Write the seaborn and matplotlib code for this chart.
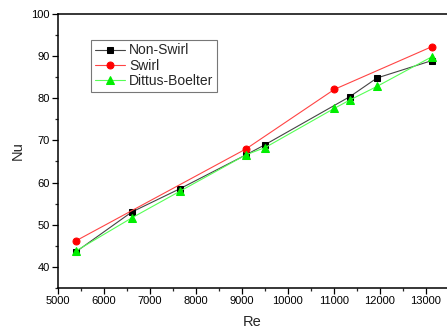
import matplotlib
matplotlib.use("Agg")
import matplotlib.pyplot as plt
import seaborn as sns
import pandas as pd
from matplotlib.ticker import MultipleLocator

sns.set_style("ticks")
plt.rcParams['font.family'] = ['Liberation Sans', 'DejaVu Sans']

re_nonswirl = [5391, 6600, 7643, 9091, 9504, 11350, 11937, 13124]
nu_nonswirl = [43.6, 53.0, 58.5, 66.6, 69.0, 80.4, 84.8, 88.9]

re_swirl = [5391, 9091, 11010, 13124]
nu_swirl = [46.2, 68.0, 82.1, 92.2]

re_db = [5391, 6600, 7643, 9091, 9504, 11010, 11350, 11937, 13124]
nu_db = [43.8, 51.6, 57.9, 66.6, 68.3, 77.6, 79.6, 82.8, 89.8]

fig = plt.figure(figsize=(4.47, 3.31), dpi=100)
ax = fig.add_axes([0.13, 0.13, 0.87, 0.828])

sns.lineplot(x=re_nonswirl, y=nu_nonswirl, ax=ax, color='#444444', lw=0.8,
             marker='s', markersize=4.0, markerfacecolor='black', markeredgecolor='black',
             label='Non-Swirl')
sns.lineplot(x=re_swirl, y=nu_swirl, ax=ax, color='#ff4444', lw=0.8,
             marker='o', markersize=5.0, markerfacecolor='#ff0000', markeredgecolor='#ff0000',
             label='Swirl')
sns.lineplot(x=re_db, y=nu_db, ax=ax, color='#55ff55', lw=0.8,
             marker='^', markersize=5.2, markerfacecolor='#00ee00', markeredgecolor='#00ee00',
             label='Dittus-Boelter')

ax.set_xlim(5000, 13460)
ax.set_ylim(35, 100)
ax.xaxis.set_major_locator(MultipleLocator(1000))
ax.xaxis.set_minor_locator(MultipleLocator(500))
ax.yaxis.set_major_locator(MultipleLocator(10))
ax.yaxis.set_minor_locator(MultipleLocator(5))
ax.tick_params(which='major', length=4, width=0.9, direction='out', labelsize=8, colors='black', pad=2)
ax.tick_params(which='minor', length=2.5, width=0.9, direction='out')
for s in ['left', 'bottom', 'top']:
    ax.spines[s].set_linewidth(1.1)
    ax.spines[s].set_color('black')
ax.spines['right'].set_visible(False)

ax.set_xlabel('Re', fontsize=10.5, labelpad=6)
ax.set_ylabel('Nu', fontsize=10.5, labelpad=5)

leg = ax.legend(loc='upper left', bbox_to_anchor=(0.085, 0.905), fontsize=10,
                frameon=True, fancybox=False, framealpha=1, edgecolor='#777777',
                borderpad=0.25, labelspacing=0.1, handlelength=2.2, handletextpad=0.3,
                borderaxespad=0)
leg.get_frame().set_linewidth(0.8)

fig.savefig('out.png', dpi=100)
